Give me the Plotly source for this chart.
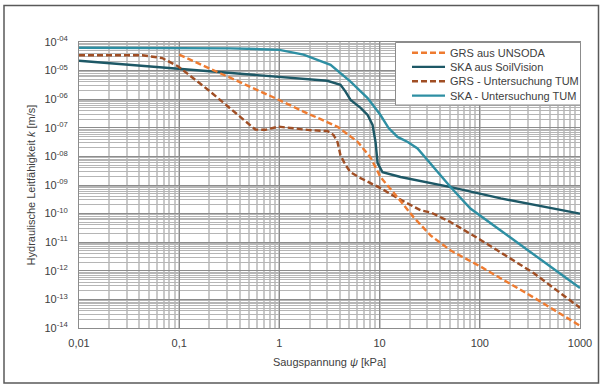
import plotly.graph_objects as go

# ---------------- data ----------------
psi_grs_unsoda = [0.1, 0.195, 0.427, 0.912, 1.74, 3.8, 6.03, 8.13, 10.2, 15.1,
                  21.9, 32.4, 51.3, 102, 347, 1000]
k_grs_unsoda = [3.6e-5, 1.22e-5, 3.6e-6, 1.08e-6, 3.7e-7, 1.09e-7, 3.25e-8, 9.1e-9,
                1.9e-9, 3.7e-10, 7.4e-11, 1.7e-11, 5.1e-12, 1.4e-12, 1.15e-13, 1.2e-14]

psi_ska_sv = [0.01, 0.1, 1.0, 3.0, 4.07, 4.57, 5.13, 6.46, 7.59, 8.51, 9.12, 9.55,
              10.7, 16.2, 51.3, 162, 1000]
k_ska_sv = [2.2e-5, 1.13e-5, 5.8e-6, 4.4e-6, 3.2e-6, 1.85e-6, 9.5e-7, 5.0e-7, 2.8e-7,
            1.26e-7, 3.1e-8, 5.8e-9, 2.8e-9, 1.9e-9, 8.4e-10, 3.4e-10, 1.0e-10]

psi_grs_tum = [0.01, 0.0427, 0.0676, 0.098, 0.195, 0.427, 0.575, 0.724, 0.977, 1.38,
               2.0, 3.02, 3.47, 3.8, 4.07, 4.57, 5.13, 6.46, 10.2, 15.1, 25.7, 32.4,
               51.3, 102, 347, 1000]
k_grs_tum = [3.45e-5, 3.45e-5, 2.75e-5, 1.39e-5, 2.1e-6, 2.2e-7, 8.7e-8, 8.5e-8, 1.1e-7,
             9.6e-8, 8.3e-8, 7.7e-8, 5.6e-8, 3.2e-8, 1.1e-8, 5.0e-9, 2.8e-9, 1.74e-9,
             7.8e-10, 3.5e-10, 1.3e-10, 1.1e-10, 5.0e-11, 1.2e-11, 8.2e-13, 5.1e-14]

psi_ska_tum = [0.01, 0.1, 0.324, 0.646, 1.0, 1.74, 3.24, 5.13, 7.59, 10.2, 12.3, 15.1,
               19.1, 23.9, 34.7, 51.3, 80.6, 1000]
k_ska_tum = [6.3e-5, 6.2e-5, 6.0e-5, 5.6e-5, 5.3e-5, 3.6e-5, 1.6e-5, 4.1e-6, 1.1e-6,
             2.8e-7, 9.8e-8, 4.8e-8, 3.2e-8, 1.9e-8, 4.2e-9, 8.3e-10, 1.5e-10, 2.5e-13]

series_names = ["GRS aus UNSODA", "SKA aus SoilVision", "GRS - Untersuchung TUM",
                "SKA - Untersuchung TUM"]

x_tickvals = [0.01, 0.1, 1, 10, 100, 1000]
x_ticktext = ["0,01", "0,1", "1", "10", "100", "1000"]
y_tickvals = [1e-4, 1e-5, 1e-6, 1e-7, 1e-8, 1e-9, 1e-10, 1e-11, 1e-12, 1e-13, 1e-14]
y_ticktext = ["10<sup>-04</sup>", "10<sup>-05</sup>", "10<sup>-06</sup>", "10<sup>-07</sup>",
              "10<sup>-08</sup>", "10<sup>-09</sup>", "10<sup>-10</sup>", "10<sup>-11</sup>",
              "10<sup>-12</sup>", "10<sup>-13</sup>", "10<sup>-14</sup>"]

# ---------------- styling ----------------
colors = ["#EE7B30", "#1D5866", "#A04E24", "#2E8FA3"]
dashes = ["6px,3px", "solid", "6px,3px", "solid"]
LW = 2.4
FONT = "Liberation Sans, Arial, sans-serif"
TXT = "#404040"

fig = go.Figure()
data = [(psi_grs_unsoda, k_grs_unsoda), (psi_ska_sv, k_ska_sv),
        (psi_grs_tum, k_grs_tum), (psi_ska_tum, k_ska_tum)]
order = [1, 3, 2, 0]
for i in order:
    xs, ys = data[i]
    fig.add_trace(go.Scatter(x=xs, y=ys, mode="lines", name=series_names[i],
                             line=dict(color=colors[i], width=LW, dash=dashes[i]),
                             showlegend=False))

L, R, T, B = 79, 24, 42, 60
W, H = 604, 388
pw, ph = W - L - R, H - T - B

def px(xp):
    return (xp - L) / pw

def py(yp):
    return (H - B - yp) / ph

shapes = []
annotations = []
# outer frame
shapes.append(dict(type="rect", xref="paper", yref="paper",
                   x0=px(4), x1=px(598.5), y0=py(383), y1=py(5.5),
                   line=dict(color="#595959", width=1.5), fillcolor="rgba(0,0,0,0)"))
# legend box
shapes.append(dict(type="rect", xref="paper", yref="paper",
                   x0=px(395.5), x1=px(580.5), y0=py(105), y1=py(42.5),
                   line=dict(color="#8c8c8c", width=1), fillcolor="white", layer="above"))
row_y = [52.7, 66.9, 81.3, 95.6]
for j, i in enumerate([0, 1, 2, 3]):
    yy = py(row_y[j])
    shapes.append(dict(type="line", xref="paper", yref="paper",
                       x0=px(412), x1=px(445), y0=yy, y1=yy, layer="above",
                       line=dict(color=colors[i], width=LW, dash=dashes[i])))
    annotations.append(dict(xref="paper", yref="paper", x=px(448), y=yy,
                            xanchor="left", yanchor="middle", showarrow=False,
                            text=series_names[i], font=dict(family=FONT, size=11, color=TXT)))

fig.update_layout(
    width=W, height=H,
    margin=dict(l=L, r=R, t=T, b=B),
    paper_bgcolor="white", plot_bgcolor="white",
    font=dict(family=FONT, size=11, color=TXT),
    shapes=shapes, annotations=annotations,
    showlegend=False,
)
fig.update_xaxes(
    type="log", range=[-2, 3],
    tickmode="array", tickvals=x_tickvals, ticktext=x_ticktext,
    showgrid=True, gridcolor="#8c8c8c", gridwidth=1,
    minor=dict(dtick="D1", showgrid=True, gridcolor="#c9c9c9", gridwidth=1.5, ticks=""),
    showline=True, linecolor="#8c8c8c", linewidth=1, mirror=True,
    ticks="", ticklabelstandoff=5,
    tickfont=dict(family=FONT, size=11, color=TXT),
    title=dict(text="Saugspannung <i>ψ</i> [kPa]", standoff=10,
               font=dict(family=FONT, size=11, color=TXT)),
    zeroline=False,
)
fig.update_yaxes(
    type="log", range=[-14, -4],
    tickmode="array", tickvals=y_tickvals, ticktext=y_ticktext,
    showgrid=True, gridcolor="#8c8c8c", gridwidth=1,
    minor=dict(dtick="D1", showgrid=True, gridcolor="#b5b5b5", gridwidth=1, ticks=""),
    showline=True, linecolor="#8c8c8c", linewidth=1, mirror=True,
    ticks="", ticklabelstandoff=8,
    tickfont=dict(family=FONT, size=11, color=TXT),
    title=dict(text="Hydraulische Leitfähigkeit <i>k</i> [m/s]", standoff=6,
               font=dict(family=FONT, size=11, color=TXT)),
    zeroline=False,
)

fig.write_html("out.html")
